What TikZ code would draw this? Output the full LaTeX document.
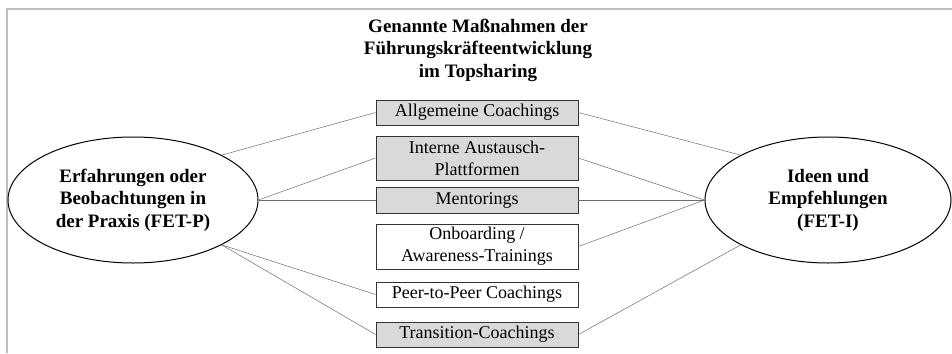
\documentclass[tikz,border=0pt]{standalone}
\usepackage{fontspec}
\setmainfont{Liberation Serif}
\usetikzlibrary{shapes.geometric}
\begin{document}
\begin{tikzpicture}[x=1pt,y=-1pt,
 box/.style={draw=black!80, line width=0.9pt, minimum width=202pt, inner sep=0pt, align=center, font=\fontsize{18}{22}\selectfont},
 greybox/.style={box, fill=gray!30},
 oval/.style={draw, ellipse, line width=1pt, inner sep=0pt, align=center, minimum height=126pt, font=\bfseries\fontsize{19}{22.5}\selectfont},
 conn/.style={draw=gray!85!black, line width=0.5pt},
 frame/.style={draw=gray!50, line width=2pt}]
\useasboundingbox (0,0) rectangle (952,353);
\coordinate (f1) at (7,353);
\coordinate (f2) at (7,9);
\coordinate (f3) at (952,9);
\draw[frame] (f1) -- (f2) -- (f3);

\node[align=center, inner sep=0pt, font=\bfseries\fontsize{19}{22.5}\selectfont] (title) at (478,50) {Genannte Maßnahmen der\\Führungskräfteentwicklung\\im Topsharing};

\node[oval, minimum width=250pt] (L) at (133,200) {Erfahrungen oder\\Beobachtungen in\\der Praxis (FET-P)};
\node[oval, minimum width=246pt] (R) at (828,200) {Ideen und\\Empfehlungen\\(FET-I)};

\node[greybox, minimum height=25pt] (b1) at (477,112.5) {Allgemeine Coachings};
\node[greybox, minimum height=44pt] (b2) at (477,158) {Interne Austausch-\\Plattformen};
\node[greybox, minimum height=26pt] (b3) at (477,200) {Mentorings};
\node[box, minimum height=45pt] (b4) at (477,246.5) {Onboarding /\\Awareness-Trainings};
\node[box, minimum height=25pt] (b5) at (477,294.5) {Peer-to-Peer Coachings};
\node[greybox, minimum height=25pt] (b6) at (477,334.5) {Transition-Coachings};

\draw[conn] (L.north east) -- (b1.west);
\draw[conn] (L.east) -- (b2.west);
\draw[conn] (L.east) -- (b3.west);
\draw[conn] (L.south east) -- (b5.west);
\draw[conn] (L.south east) -- (b6.west);
\draw[conn] (b1.east) -- (R.north west);
\draw[conn] (b2.east) -- (R.west);
\draw[conn] (b3.east) -- (R.west);
\draw[conn] (b4.east) -- (R.west);
\draw[conn] (b6.east) -- (R.south west);
\end{tikzpicture}
\end{document}
